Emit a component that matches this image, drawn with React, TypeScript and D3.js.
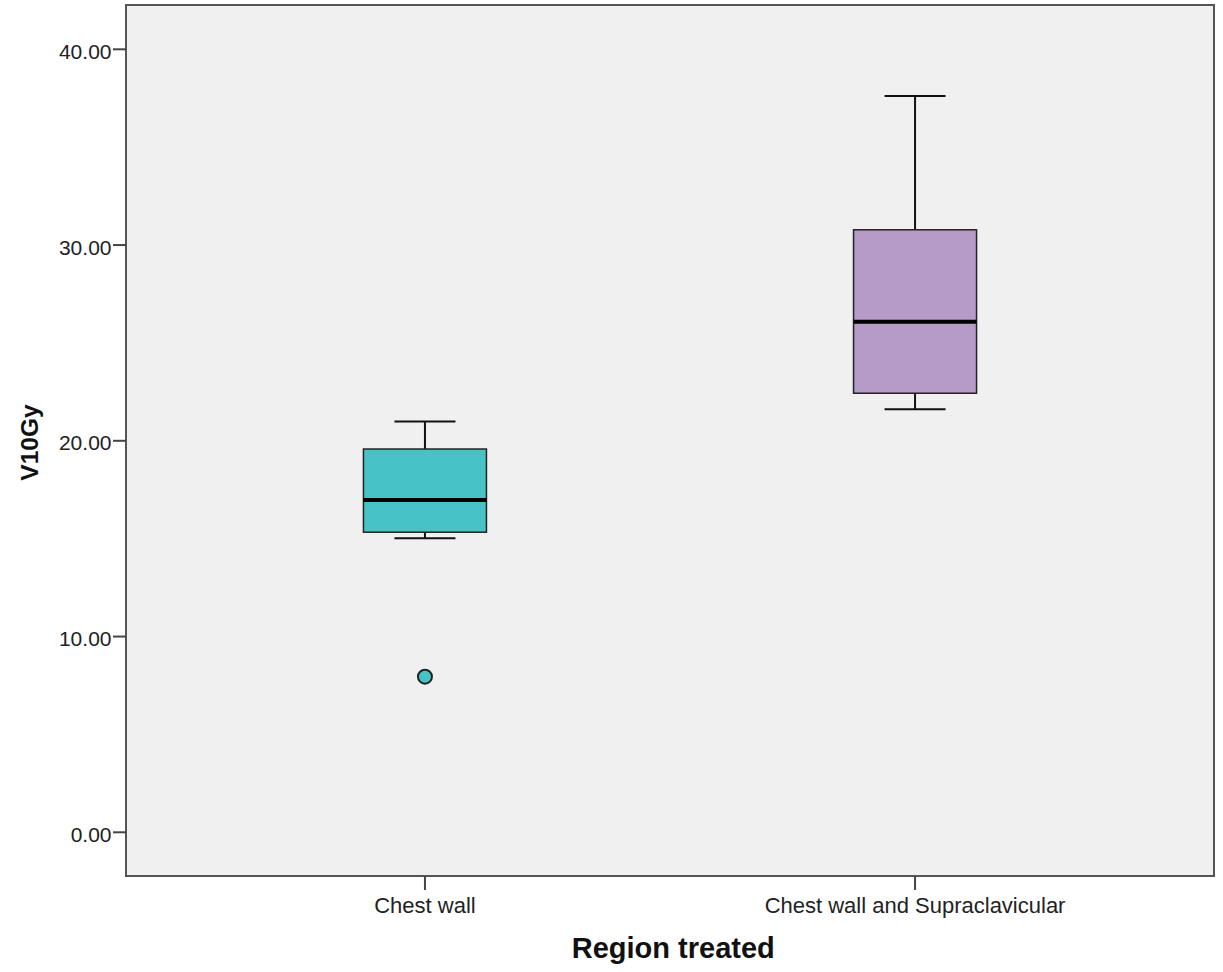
import React from "react";
import * as d3 from "d3";

const categories = ["Chest wall", "Chest wall and Supraclavicular"];
const lowerWhisker = [15.02, 21.61];
const q1 = [15.33, 22.43];
const median = [16.98, 26.08];
const q3 = [19.58, 30.78];
const upperWhisker = [20.98, 37.61];
const outliers = [[7.95], []];
const fills = ["#47C3C5", "#B69AC8"];
const yTicks = [0, 10, 20, 30, 40];

const W = 1223;
const H = 972;
const left = 126;
const right = 1214;
const top = 5;
const bottom = 876;

export default function App() {
  const y = d3.scaleLinear().domain([0, 40]).range([832.3, 49.3]);
  const x = d3.scalePoint<string>().domain(categories).range([left, right]).padding(0.61);
  const boxW = 123;
  const capW = 61;
  const font = "Arial, 'Liberation Sans', sans-serif";
  return (
    <svg width={W} height={H} style={{ position: "absolute", left: 0, top: 0 }}>
      <rect x={0} y={0} width={W} height={H} fill="#fff" />
      <rect x={left} y={top} width={right - left} height={bottom - top} fill="#F0F0F0" stroke="#555" strokeWidth={2} />
      {yTicks.map((t) => (
        <g key={t}>
          <line x1={113} x2={left} y1={y(t)} y2={y(t)} stroke="#444" strokeWidth={2} />
          <text x={111.5} y={y(t) + 9.5} textAnchor="end" fontFamily={font} fontSize={21} fill="#222">
            {t.toFixed(2)}
          </text>
        </g>
      ))}
      {categories.map((c, i) => {
        const cx = x(c)!;
        return (
          <g key={c}>
            <line x1={cx} x2={cx} y1={bottom} y2={890} stroke="#444" strokeWidth={2} />
            <text x={cx} y={913} textAnchor="middle" fontFamily={font} fontSize={22} fill="#222">
              {c}
            </text>
            <line x1={cx} x2={cx} y1={y(upperWhisker[i])} y2={y(q3[i])} stroke="#111" strokeWidth={2} />
            <line x1={cx} x2={cx} y1={y(q1[i])} y2={y(lowerWhisker[i])} stroke="#111" strokeWidth={2} />
            <line x1={cx - capW / 2} x2={cx + capW / 2} y1={y(upperWhisker[i])} y2={y(upperWhisker[i])} stroke="#111" strokeWidth={2} />
            <line x1={cx - capW / 2} x2={cx + capW / 2} y1={y(lowerWhisker[i])} y2={y(lowerWhisker[i])} stroke="#111" strokeWidth={2} />
            <rect
              x={cx - boxW / 2}
              y={y(q3[i])}
              width={boxW}
              height={y(q1[i]) - y(q3[i])}
              fill={fills[i]}
              stroke="#222"
              strokeWidth={1.5}
            />
            <line x1={cx - boxW / 2} x2={cx + boxW / 2} y1={y(median[i])} y2={y(median[i])} stroke="#000" strokeWidth={4} />
            {outliers[i].map((o, j) => (
              <circle key={j} cx={cx} cy={y(o)} r={7} fill={fills[i]} stroke="#222" strokeWidth={2} />
            ))}
          </g>
        );
      })}
      <text
        transform={`translate(38, 442.5) rotate(-90)`}
        textAnchor="middle"
        fontFamily={font}
        fontSize={24.5}
        fontWeight="bold"
        fill="#111"
      >
        V10Gy
      </text>
      <text
        x={673.3}
        y={958}
        textAnchor="middle"
        fontFamily={font}
        fontSize={29}
        fontWeight="bold"
        fill="#111"
      >
        Region treated
      </text>
    </svg>
  );
}
